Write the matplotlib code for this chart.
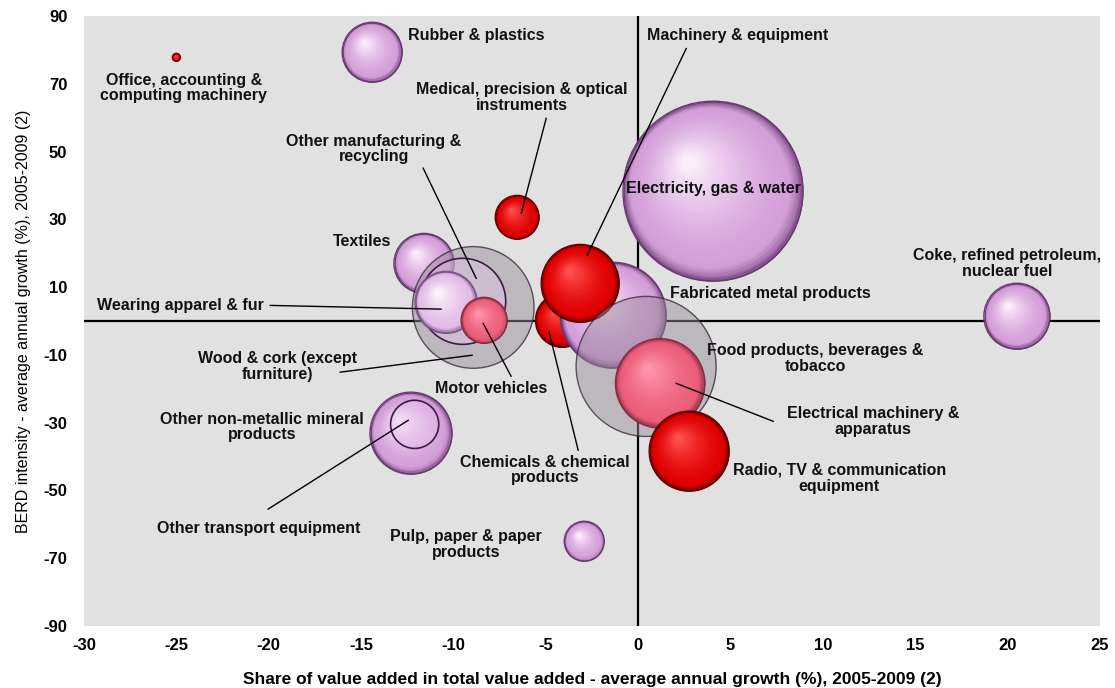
import numpy as np
import matplotlib
matplotlib.use("Agg")
import matplotlib.pyplot as plt
from matplotlib.transforms import offset_copy
from matplotlib.colors import to_rgb

plt.rcParams['font.family'] = ['Liberation Sans', 'DejaVu Sans']

# ---------------- data ----------------
sectors = [
    "Textiles", "Rubber & plastics", "Office, accounting & computing machinery",
    "Medical, precision & optical instruments", "Electricity, gas & water",
    "Coke, refined petroleum, nuclear fuel", "Wood & cork (except furniture)",
    "Other manufacturing & recycling", "Wearing apparel & fur", "Motor vehicles",
    "Chemicals & chemical products", "Fabricated metal products",
    "Machinery & equipment", "Food products, beverages & tobacco",
    "Electrical machinery & apparatus", "Radio, TV & communication equipment",
    "Other non-metallic mineral products", "Other transport equipment",
    "Pulp, paper & paper products",
]
va_growth = [-11.6, -14.4, -25.0, -6.55, 4.05, 20.5, -8.93, -9.5, -10.4, -8.34,
             -4.1, -1.35, -3.14, 0.43, 1.19, 2.76, -12.3, -12.1, -2.92]
berd_growth = [17.0, 79.3, 77.8, 30.6, 38.3, 1.4, 4.0, 5.8, 5.5, 0.2,
               0.2, 1.7, 11.1, -13.4, -18.4, -38.4, -33.1, -30.5, -65.0]
bubble_size = [9.0, 9.0, 0.16, 4.8, 81.0, 10.9, 37.0, 18.5, 9.6, 5.3,
               7.3, 28.0, 15.2, 49.0, 20.0, 16.0, 16.8, 5.8, 4.0]
# group: how the sector is drawn
group = ["pink", "pink", "red", "red", "pink", "pink", "gray", "ring", "lightpink", "rose",
         "red", "pink", "red", "gray", "rose", "red", "pink", "ring", "pink"]

x_ticks = [-30, -25, -20, -15, -10, -5, 0, 5, 10, 15, 20, 25]
y_ticks = [-90, -70, -50, -30, -10, 10, 30, 50, 70, 90]

# label text, label position (data units), leader end (None = no leader)
labels = [
    ("Textiles", (-14.94, 23.5), None),
    ("Rubber & plastics", (-12.45, 84.3), None),
    ("Office, accounting &\ncomputing machinery", (-24.6, 68.7), None),
    ("Medical, precision & optical\ninstruments", (-6.28, 66.0), ((-4.98, 59.8), (-6.33, 31.8))),
    ("Electricity, gas & water", (4.06, 39.1), None),
    ("Coke, refined petroleum,\nnuclear fuel", (19.96, 17.0), None),
    ("Wood & cork (except\nfurniture)", (-19.55, -13.4), ((-16.13, -15.1), (-8.99, -10.1))),
    ("Other manufacturing &\nrecycling", (-14.3, 50.7), ((-11.64, 45.1), (-8.77, 12.6))),
    ("Wearing apparel & fur", (-24.8, 4.6), ((-19.92, 4.6), (-10.67, 3.5))),
    ("Motor vehicles", (-7.96, -19.8), ((-6.88, -16.3), (-8.39, -0.7))),
    ("Chemicals & chemical\nproducts", (-5.04, -44.0), ((-3.25, -38.1), (-4.82, -3.3))),
    ("Fabricated metal products", (7.15, 8.2), None),
    ("Machinery & equipment", (5.4, 84.3), ((2.6, 80.4), (-2.76, 19.4))),
    ("Food products, beverages &\ntobacco", (9.58, -11.0), None),
    ("Electrical machinery &\napparatus", (12.72, -29.6), ((7.31, -29.6), (2.06, -18.4))),
    ("Radio, TV & communication\nequipment", (10.88, -46.4), None),
    ("Other non-metallic mineral\nproducts", (-20.36, -31.3), None),
    ("Other transport equipment", (-20.57, -61.2), ((-20.03, -55.5), (-12.45, -29.3))),
    ("Pulp, paper & paper\nproducts", (-9.31, -65.9), None),
]
label_ha = {"Rubber & plastics": "left"}

# ---------------- styles ----------------
STYLES = {
    "pink": dict(base="#d49fd9", light="#fcedfc", dark="#6a3a72", alpha=1.0),
    "lightpink": dict(base="#e2bde6", light="#fef4fe", dark="#7e5486", alpha=1.0),
    "red": dict(base="#e00000", light="#ff5050", dark="#640000", alpha=1.0),
    "rose": dict(base="#ec5f7a", light="#ff97ad", dark="#8a2c40", alpha=0.92),
}
SCALE = 207.36  # points^2 per size unit

fig = plt.figure(figsize=(11.15, 6.88), dpi=100)
ax = fig.add_axes([84 / 1115, 1 - 626 / 688, 1016 / 1115, 610 / 688])
ax.set_facecolor("#e1e1e1")
ax.set_xlim(-30, 25)
ax.set_ylim(-90, 90)
for s in ax.spines.values():
    s.set_visible(False)
ax.axhline(0, color="black", lw=1.6, zorder=1)
ax.axvline(0, color="black", lw=1.6, zorder=1)


def mix(c1, c2, t):
    a, b = np.array(to_rgb(c1)), np.array(to_rgb(c2))
    return tuple(a + (b - a) * t)


def sphere(x, y, size, st, z):
    d = np.sqrt(size * SCALE)  # diameter in points
    r = d / 2
    n = max(22, int(r * 1.1))
    for k in range(n):
        t = k / (n - 1)
        rk = 1 - 0.92 * t
        if t < 0.12:
            col = mix(st["dark"], st["base"], (t / 0.12) ** 0.6)
        else:
            col = mix(st["base"], st["light"], ((t - 0.12) / 0.88) ** 1.5)
        tr = offset_copy(ax.transData, fig=fig, x=-0.28 * t * r, y=0.33 * t * r, units="points")
        ax.scatter([x], [y], s=(d * rk) ** 2, color=col, transform=tr, zorder=z + k * 1e-4,
                   linewidths=0, alpha=st["alpha"])
    ax.scatter([x], [y], s=d ** 2, facecolors="none", edgecolors=st["dark"], linewidths=1.0,
               zorder=z + 0.05)


for i, (x, y, sz, g) in enumerate(zip(va_growth, berd_growth, bubble_size, group)):
    z = 2 + i * 0.1
    if g in STYLES:
        sphere(x, y, sz, STYLES[g], z)
    elif g == "gray":
        ax.scatter([x], [y], s=sz * SCALE, color="#978a98", alpha=0.48, linewidths=0, zorder=z)
        ax.scatter([x], [y], s=sz * SCALE, facecolors="none", edgecolors="#3c2c3c",
                   linewidths=1.0, alpha=0.8, zorder=z + 0.01)
    elif g == "ring":
        ax.scatter([x], [y], s=sz * SCALE, color="#e8c4ec", alpha=0.4, linewidths=0, zorder=z)
        ax.scatter([x], [y], s=sz * SCALE, facecolors="none", edgecolors="#3a1c42",
                   linewidths=1.2, zorder=z + 0.01)

for text, pos, leader in labels:
    ha = label_ha.get(text, "center")
    ax.text(pos[0], pos[1], text, ha=ha, va="center", fontsize=11.5, fontweight="bold",
            color="#111111", zorder=10, linespacing=1.05)
    if leader is not None:
        (x0, y0), (x1, y1) = leader
        ax.plot([x0, x1], [y0, y1], color="black", lw=1.0, zorder=9)

ax.set_xticks(x_ticks)
ax.set_yticks(y_ticks)
ax.set_xticklabels([str(v) for v in x_ticks], fontsize=12, fontweight="bold")
ax.set_yticklabels([str(v) for v in y_ticks], fontsize=12, fontweight="bold")
ax.tick_params(axis="both", length=0)
ax.tick_params(axis="y", pad=12)
ax.tick_params(axis="x", pad=9)
ax.set_xlabel("Share of value added in total value added - average annual growth (%), 2005-2009 (2)",
              fontsize=12.5, fontweight="bold", labelpad=13)
ax.set_ylabel("BERD intensity - average annual growth (%), 2005-2009 (2)",
              fontsize=11.5, fontweight="normal", labelpad=9)

fig.savefig("out.png", dpi=100)
